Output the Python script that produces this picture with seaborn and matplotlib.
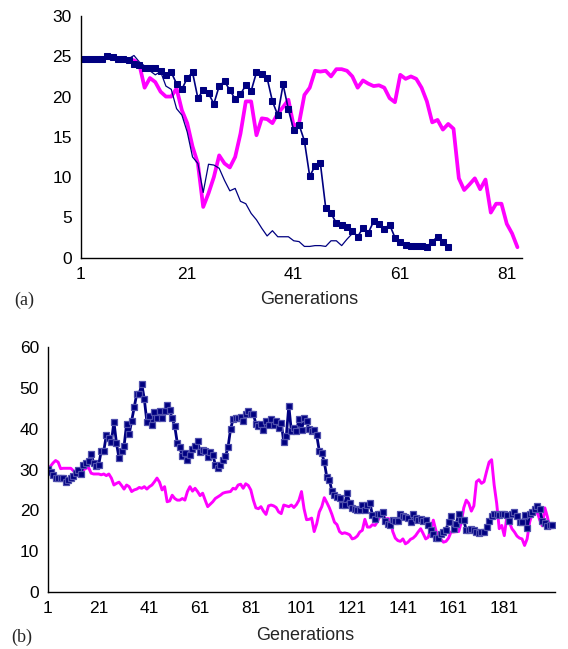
import numpy as np
import pandas as pd
import matplotlib
matplotlib.use("Agg")
import matplotlib.pyplot as plt
import seaborn as sns

sns.set_style("white")
plt.rcParams['font.family'] = ['Liberation Sans', 'DejaVu Sans']

# ---------------- data: panel (a) ----------------
a_markers = [24.7, 24.7, 24.7, 24.7, 24.7, 25.0, 24.9, 24.7, 24.7, 24.6,
             24.1, 23.9, 23.6, 23.5, 23.6, 23.2, 22.7, 23.0, 21.6, 20.9,
             22.3, 23.0, 19.8, 20.8, 20.4, 19.1, 21.3, 21.9, 20.8, 19.7,
             20.3, 21.4, 20.7, 23.0, 22.8, 22.3, 19.4, 17.7, 21.5, 18.4,
             15.8, 16.5, 14.5, 10.1, 11.4, 11.7, 6.2, 5.5, 4.3, 4.0,
             3.8, 3.35, 2.6, 3.7, 3.1, 4.5, 4.2, 3.6, 4.1, 2.5,
             1.9, 1.55, 1.4, 1.4, 1.4, 1.35, 2.0, 2.6, 1.9, 1.35]
a_thin = [24.7, 24.7, 24.7, 24.7, 24.7, 24.7, 24.7, 24.7, 24.7, 24.7,
          25.1, 24.3, 23.8, 23.2, 22.7, 23.1, 21.3, 20.9, 18.5, 17.7,
          15.6, 12.5, 11.7, 8.1, 11.6, 11.5, 11.1, 9.6, 8.3, 8.6,
          7.0, 6.7, 5.5, 4.7, 3.65, 2.7, 3.35, 2.6, 2.6, 2.6,
          2.1, 2.0, 1.4, 1.4, 1.5, 1.5, 1.4, 2.1, 2.1, 1.5,
          2.3, 3.0]
a_magenta = [24.7, 24.7, 24.7, 24.7, 24.7, 24.8, 24.7, 24.7, 24.7, 24.6,
             24.5, 24.0, 21.1, 22.3, 21.8, 20.6, 20.0, 20.0, 21.0, 18.3,
             16.7, 13.8, 11.7, 6.3, 8.0, 10.0, 12.7, 11.7, 11.2, 12.5,
             15.4, 19.4, 19.4, 15.2, 17.3, 17.2, 16.7, 17.9, 18.7, 19.6,
             16.3, 16.7, 20.2, 21.1, 23.2, 23.1, 23.2, 22.5, 23.4, 23.4,
             23.2, 22.5, 21.1, 22.0, 21.6, 21.3, 21.4, 21.1, 19.8, 19.3,
             22.7, 22.2, 22.5, 22.2, 21.1, 19.4, 16.8, 17.1, 15.9, 16.6,
             16.0, 9.85, 8.4, 9.1, 9.85, 8.5, 9.7, 5.6, 6.7, 6.7,
             4.2, 3.0, 1.3]
a_xticks = [1, 21, 41, 61, 81]
a_yticks = [0, 5, 10, 15, 20, 25, 30]

# ---------------- data: panel (b) ----------------
b_navy = [30.1, 29.5, 28.7, 28.0, 27.9, 28.0, 27.9, 27.0, 27.5, 28.0,
          28.5, 29.1, 29.9, 28.9, 31.2, 31.6, 32.0, 33.8, 31.6, 30.8,
          31.2, 34.5, 34.5, 38.4, 37.8, 36.7, 41.7, 36.5, 32.8, 34.6,
          35.7, 41.1, 38.6, 41.9, 45.2, 48.5, 48.6, 50.9, 47.2, 41.7,
          43.1, 40.9, 44.1, 42.5, 44.3, 42.5, 44.3, 45.8, 44.5, 42.5,
          40.6, 36.5, 35.4, 33.2, 34.0, 32.4, 33.6, 34.9, 35.7, 36.9,
          34.3, 34.7, 34.5, 33.0,
          34.4, 33.6, 31.2, 30.3, 31.2, 32.4, 33.2, 35.4, 39.8, 42.3,
          42.5, 42.5, 42.9, 41.9, 43.5, 44.4, 43.7, 43.7, 41.1, 40.6,
          41.1, 39.6, 42.0, 40.9, 42.3, 40.9, 41.9, 40.2, 41.5, 36.7,
          38.2, 45.6, 39.4, 40.2, 39.4, 42.3, 39.6, 42.5, 41.9, 39.8,
          39.4, 39.6, 38.4, 34.6, 34.0, 31.8, 28.1, 27.5, 24.7, 23.7,
          23.3, 22.9, 21.4, 21.3, 24.2, 21.7, 20.6, 20.4, 20.0, 20.0,
          21.3, 20.0, 21.4, 21.7, 18.8, 17.8, 19.0,
          19.2, 19.6, 17.3, 16.7, 16.3, 17.6, 17.3, 17.3, 19.2, 18.6,
          18.4, 18.1, 17.1, 19.0, 18.1, 17.6, 17.8, 17.3, 17.6, 16.3,
          15.1, 14.3, 13.2, 13.2, 14.3, 14.8, 15.3, 17.1, 18.6, 15.5,
          16.7, 19.0, 17.6, 17.6, 15.1, 15.3, 15.5, 15.1, 14.8, 14.5,
          14.7, 14.8, 15.9, 17.3, 18.6, 19.2, 19.0, 18.8, 19.0, 19.2,
          18.8, 17.3, 19.0, 19.6, 18.6, 17.1, 17.1, 18.8, 15.7, 19.0,
          19.6, 20.4, 21.1, 20.3, 17.3, 17.0, 16.2, 16.5, 16.3]
b_magenta = [30.1, 30.8, 31.6, 32.2, 31.8, 30.2, 30.3, 30.3, 30.3, 30.3,
             29.7, 29.1, 29.5, 29.7, 29.9, 30.3, 30.5, 29.1, 28.9, 28.9,
             28.9, 28.7, 28.9, 28.5, 28.9, 27.9, 26.2, 26.6, 26.9, 26.1,
             25.2, 26.2, 25.8, 24.6, 25.0, 25.2, 25.6, 25.4, 25.8, 25.2,
             25.8, 26.2, 27.0, 27.9, 26.9, 25.0, 25.8, 22.1, 22.3, 23.7,
             22.9, 22.5, 22.5, 22.9, 22.5, 24.6, 25.8, 24.7, 25.4, 24.6,
             23.6, 24.2, 22.5, 20.9,
             21.5, 22.1, 22.9, 23.3, 23.7, 24.2, 24.4, 24.5, 24.6, 25.4,
             25.2, 26.2, 26.4, 25.4, 26.5, 26.1, 25.0, 22.5, 20.6, 20.4,
             20.9, 19.8, 19.0, 21.1, 21.3, 21.1, 20.7, 19.6, 19.2, 21.3,
             21.1, 20.9, 21.3, 20.7, 21.4, 22.5, 24.6, 20.4, 17.7, 17.8,
             18.1, 14.8, 16.7, 19.6, 20.9, 23.1, 21.9, 20.6, 19.0, 17.1,
             16.5, 14.8, 14.3, 14.5, 14.3, 14.0, 13.0, 13.2, 13.7, 14.7,
             15.1, 17.8, 15.9, 15.9, 16.5, 16.3, 17.3,
             18.7, 19.0, 17.8, 18.0, 17.8, 14.8, 13.2, 12.6, 12.4, 13.0,
             11.8, 12.2, 12.9, 13.2, 13.8, 14.7, 15.5, 14.3, 13.0, 13.4,
             15.5, 17.6, 15.1, 13.2, 12.9, 12.2, 12.4, 13.2, 14.7, 14.7,
             14.8, 14.8, 17.0, 20.6, 22.5, 21.7, 19.8, 21.1, 27.0, 27.5,
             26.6, 27.0, 29.5, 31.8, 32.4, 26.2, 21.7, 15.5, 16.3, 13.8,
             18.4, 17.1, 15.5, 14.7, 13.7, 13.2, 13.0, 11.4, 13.0, 17.1,
             19.2, 19.2, 19.6, 17.6, 16.2, 20.6, 18.4, 15.5, 16.2]
b_xticks = [1, 21, 41, 61, 81, 101, 121, 141, 161, 181, 201]
b_xticklabels = ['1', '21', '41', '61', '81', '101', '121', '141', '161', '181', '']
b_yticks = [0, 10, 20, 30, 40, 50, 60]

NAVY = '#000080'
MAGENTA = '#FF00FF'

W, H = 568, 649
fig = plt.figure(figsize=(W / 100, H / 100), dpi=100)
ax1 = fig.add_axes([80.7 / W, 1 - 257.7 / H, (521.7 - 80.7) / W, (257.7 - 16) / H])
ax2 = fig.add_axes([48 / W, 1 - 592 / H, (555 - 48) / W, (592 - 347) / H])


def series(vals):
    return pd.DataFrame({'gen': np.arange(1, len(vals) + 1), 'val': vals})


# panel (a)
d = series(a_magenta)
sns.lineplot(data=d, x='gen', y='val', ax=ax1, color=MAGENTA, linewidth=2.7,
             errorbar=None, legend=False)
d = series(a_thin)
sns.lineplot(data=d, x='gen', y='val', ax=ax1, color=NAVY, linewidth=0.9,
             errorbar=None, legend=False)
d = series(a_markers)
sns.lineplot(data=d, x='gen', y='val', ax=ax1, color=NAVY, linewidth=1.2,
             marker='s', markersize=4.8, markeredgecolor=NAVY, markerfacecolor=NAVY,
             errorbar=None, legend=False)

# panel (b)
d = series(b_magenta)
sns.lineplot(data=d, x='gen', y='val', ax=ax2, color=MAGENTA, linewidth=2.1,
             errorbar=None, legend=False)
d = series(b_navy)
sns.lineplot(data=d, x='gen', y='val', ax=ax2, color=NAVY, linewidth=2.0,
             marker='s', markersize=3.9, markeredgecolor='#5050ad', markeredgewidth=0.9,
             markerfacecolor=NAVY, errorbar=None, legend=False)

ax1.set_xlim(1, 83.8)
ax1.set_ylim(0, 30)
ax1.set_xticks(a_xticks)
ax1.set_yticks(a_yticks)

ax2.set_xlim(1, 201)
ax2.set_ylim(0, 60)
ax2.set_xticks(b_xticks)
ax2.set_xticklabels(b_xticklabels)
ax2.set_yticks(b_yticks)

for ax in (ax1, ax2):
    ax.set_xlabel('')
    ax.set_ylabel('')
    ax.grid(False)
    for s in ('top', 'right'):
        ax.spines[s].set_visible(False)
    for s in ('left', 'bottom'):
        ax.spines[s].set_color('black')
        ax.spines[s].set_linewidth(1.0)
    ax.tick_params(axis='both', direction='out', length=3.5, width=0.9,
                   color='black', labelsize=12.5, pad=3, labelcolor='black')

fig.text(309 / W, 1 - 300 / H, 'Generations', ha='center', va='center', fontsize=13)
fig.text(305 / W, 1 - 636 / H, 'Generations', ha='center', va='center', fontsize=13)
fig.text(24 / W, 1 - 300 / H, '(a)', ha='center', va='center', fontsize=13,
         family=['Liberation Serif', 'DejaVu Serif'])
fig.text(21.5 / W, 1 - 637 / H, '(b)', ha='center', va='center', fontsize=13,
         family=['Liberation Serif', 'DejaVu Serif'])

fig.savefig('out.png', dpi=100)
